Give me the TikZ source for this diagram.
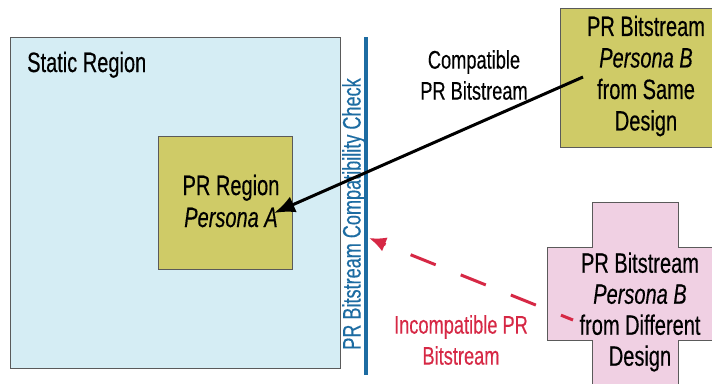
\documentclass[tikz,border=0pt]{standalone}
\usepackage{fontspec}
\setmainfont{Liberation Sans}[FakeStretch=0.715,FakeBold=0.3]
\usetikzlibrary{arrows.meta}
\definecolor{staticfill}{HTML}{D5EDF4}
\definecolor{prfill}{HTML}{CFCB67}
\definecolor{pinkfill}{HTML}{F0D0E3}
\definecolor{checkblue}{HTML}{1D6CA2}
\definecolor{badred}{HTML}{D62845}
\definecolor{edgegray}{HTML}{5A5A5A}
\tikzset{
  boxtext/.style={font=\fontsize{28}{31.5}\selectfont, align=center, inner sep=0pt},
  labeltext/.style={font=\fontsize{25.5}{31}\selectfont, align=center, inner sep=0pt},
  regionbox/.style={draw=edgegray, line width=1pt, inner sep=0pt},
}
\begin{document}
\begin{tikzpicture}[x=1pt,y=-1pt]
\useasboundingbox (0,0) rectangle (712,383);
\begin{scope}
\clip (0,0) rectangle (712,383);
% static region
\node[regionbox, fill=staticfill, minimum width=330pt, minimum height=330.6pt] (static) at (175.7,203) {};
\node[boxtext, anchor=base west] (statlbl) at (27,72) {Static Region};
% PR region
\node[regionbox, fill=prfill, minimum width=134pt, minimum height=133pt] (prreg) at (225,202.5) {};
\node[boxtext, font=\fontsize{28}{32}\selectfont] (prtext) at (231,201) {PR Region\\\textit{Persona A}};
% check line
\coordinate (chktop) at (366,37);
\coordinate (chkbot) at (366,375);
\draw[checkblue, line width=3.5pt] (chktop) -- (chkbot);
\node[labeltext, font=\fontsize{25.3}{28}\selectfont, text=checkblue, rotate=90] (chk) at (354,214) {PR Bitstream Compatibility Check};
% same-design bitstream
\node[regionbox, fill=prfill, minimum width=175pt, minimum height=139pt] (same) at (648,77.5) {};
\node[boxtext] (sametext) at (646,76) {PR Bitstream\\\textit{Persona B}\\from Same\\Design};
% different design cross
\draw[draw=edgegray, line width=1pt, fill=pinkfill]
  (592,202) -- (678,202) -- (678,247) -- (740,247) -- (740,340) -- (678,340) -- (678,400)
  -- (592,400) -- (592,340) -- (547.5,340) -- (547.5,247) -- (592,247) -- cycle;
\node[boxtext, font=\fontsize{28}{31}\selectfont] (difftext) at (640,312) {PR Bitstream\\\textit{Persona B}\\from Different\\Design};
% labels
\node[labeltext] (complbl) at (474,75) {Compatible\\PR Bitstream};
\node[labeltext, text=badred] (inclbl) at (461,340) {Incompatible PR\\Bitstream};
% arrows
\coordinate (samesrc) at (583,77);
\coordinate (prtip) at (274,213);
\draw[line width=3pt, -{Latex[length=21pt,width=17pt]}] (samesrc) -- (prtip);
\coordinate (diffsrc) at (573,320);
\coordinate (chkhit) at (369,238);
\draw[badred, line width=3pt, dash pattern=on 27pt off 27pt, dash phase=14pt, -{Latex[length=17pt,width=15pt]}] (diffsrc) -- (chkhit);
\end{scope}
\end{tikzpicture}
\end{document}
